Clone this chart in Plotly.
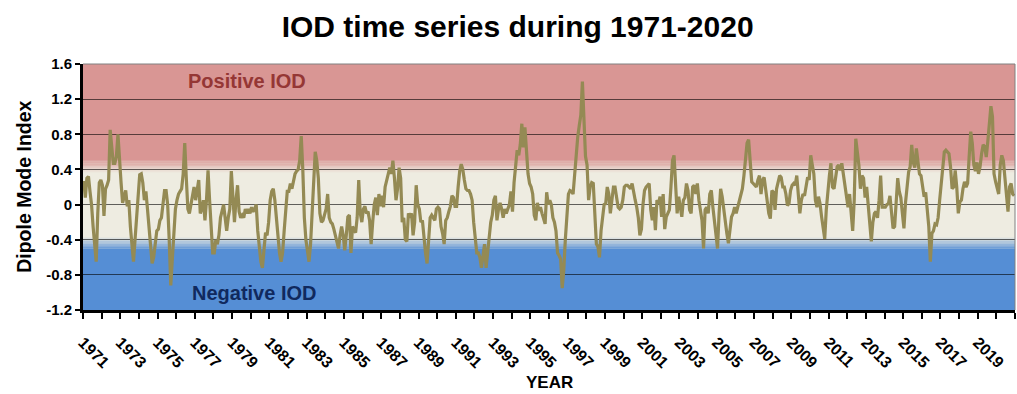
import plotly.graph_objects as go

# Monthly Dipole Mode Index, one row per year (Jan..Dec)
dmi_1971_1980 = [
    0.27, 0.08, 0.30, 0.32, 0.15, 0.00, -0.25, -0.45, -0.65, -0.10, 0.25, 0.28,
    0.22, -0.13, 0.18, 0.22, 0.28, 0.85, 0.62, 0.47, 0.47, 0.55, 0.80, 0.45,
    0.25, 0.02, 0.08, 0.16, -0.02, 0.05, -0.25, -0.50, -0.65, -0.40, -0.15, 0.15,
    0.34, 0.35, 0.25, 0.05, 0.15, -0.05, -0.30, -0.55, -0.67, -0.60, -0.45, -0.30,
    -0.28, -0.18, -0.15, 0.05, 0.16, 0.16, 0.00, -0.40, -0.92, -0.62, -0.30, -0.05,
    0.05, 0.12, 0.15, 0.18, 0.35, 0.70, 0.30, -0.05, -0.10, 0.00, 0.09, 0.20,
    0.05, 0.15, 0.28, -0.10, -0.05, 0.05, -0.18, 0.05, 0.39, 0.05, -0.20, -0.55,
    -0.55, -0.40, -0.45, -0.35, -0.15, -0.05, 0.00, -0.15, -0.30, -0.15, -0.05, 0.38,
    0.05, -0.20, 0.05, 0.22, -0.08, -0.15, -0.12, -0.15, -0.05, -0.10, -0.05, -0.10,
    -0.03, -0.08, -0.05, 0.00, -0.30, -0.50, -0.65, -0.72, -0.50, -0.32, -0.35, -0.20,
]
dmi_1981_1990 = [
    0.05, 0.15, 0.18, 0.05, -0.15, -0.38, -0.55, -0.65, -0.55, -0.30, -0.05, 0.15,
    0.15, 0.24, 0.18, 0.28, 0.35, 0.38, 0.40, 0.50, 0.78, 0.40, -0.15, -0.40,
    -0.55, -0.65, -0.45, -0.10, 0.35, 0.60, 0.50, 0.30, -0.10, -0.20, -0.18, -0.10,
    -0.05, 0.12, -0.15, -0.20, -0.22, -0.28, -0.35, -0.45, -0.50, -0.35, -0.25, -0.35,
    -0.52, -0.35, -0.14, -0.12, -0.55, -0.25, -0.28, -0.32, -0.15, 0.28, -0.10, -0.20,
    -0.05, -0.02, -0.10, -0.08, -0.18, -0.45, -0.20, 0.00, 0.08, -0.12, 0.12, -0.02,
    0.10, -0.03, 0.20, 0.28, 0.38, 0.42, 0.35, 0.50, 0.30, 0.05, 0.18, 0.42,
    0.30, -0.20, -0.15, -0.40, -0.42, -0.10, -0.15, -0.10, -0.35, -0.20, 0.22, 0.00,
    -0.05, -0.20, -0.18, -0.40, -0.55, -0.67, -0.35, -0.15, -0.12, -0.15, -0.18, -0.05,
    -0.03, -0.05, -0.25, -0.33, -0.45, -0.18, -0.15, -0.08, -0.02, 0.10, 0.08, -0.02,
]
dmi_1991_2000 = [
    -0.02, 0.20, 0.38, 0.46, 0.40, 0.28, 0.18, 0.16, 0.16, 0.12, 0.05, -0.20,
    -0.40, -0.55, -0.55, -0.60, -0.72, -0.60, -0.45, -0.72, -0.55, -0.30, -0.20, -0.12,
    0.05, 0.10, -0.18, -0.05, 0.02, -0.05, -0.15, -0.05, -0.10, -0.05, 0.00, 0.15,
    -0.08, 0.25, 0.48, 0.62, 0.56, 0.68, 0.92, 0.65, 0.88, 0.55, 0.35, 0.24,
    0.20, 0.12, -0.12, -0.18, 0.02, -0.07, -0.03, -0.10, -0.18, -0.22, 0.14, 0.00,
    0.05, 0.00, -0.15, -0.20, -0.30, -0.55, -0.58, -0.62, -0.95, -0.75, -0.40, -0.07,
    0.12, 0.16, 0.15, 0.12, 0.38, 0.55, 0.77, 0.90, 1.02, 1.40, 0.98, 0.55,
    0.45, 0.05, 0.20, 0.25, 0.24, -0.08, -0.45, -0.48, -0.60, -0.30, -0.12, 0.00,
    0.01, 0.20, 0.12, -0.10, 0.05, 0.20, 0.20, 0.05, -0.03, -0.05, -0.03, 0.05,
    0.20, 0.22, 0.22, 0.20, 0.18, 0.24, 0.12, 0.05, -0.03, -0.15, -0.35, -0.28,
]
dmi_2001_2010 = [
    0.00, 0.16, 0.20, 0.22, 0.24, -0.06, -0.18, -0.03, -0.29, 0.05, 0.01, 0.09,
    -0.14, 0.12, -0.28, -0.14, -0.10, -0.06, 0.20, 0.50, 0.56, 0.20, -0.10, 0.09,
    -0.03, -0.14, 0.05, 0.08, 0.24, 0.16, -0.06, -0.10, 0.20, 0.22, 0.12, 0.24,
    0.05, -0.10, -0.18, -0.50, -0.06, -0.03, -0.10, 0.12, 0.16, -0.03, -0.18, -0.37,
    -0.50, -0.10, 0.18, 0.09, -0.06, -0.22, -0.33, -0.44, -0.25, -0.14, -0.10, -0.03,
    -0.10, -0.03, 0.05, 0.12, 0.18, 0.33, 0.52, 0.70, 0.74, 0.43, 0.26, 0.24,
    0.22, 0.20, 0.28, 0.33, 0.12, 0.28, 0.31, 0.18, 0.05, -0.10, -0.16, 0.16,
    0.14, -0.06, 0.18, 0.28, 0.33, 0.31, 0.20, 0.20, 0.12, -0.01, 0.01, 0.16,
    0.22, 0.24, 0.22, 0.33, 0.14, -0.10, 0.05, 0.12, 0.10, 0.20, 0.31, 0.28,
    0.56, 0.45, 0.35, 0.05, -0.03, 0.09, 0.01, -0.14, -0.29, -0.39, -0.06, 0.20,
]
dmi_2011_2020 = [
    0.33, 0.47, 0.20, 0.18, 0.33, 0.43, 0.45, 0.39, 0.47, 0.33, 0.24, 0.10,
    -0.03, 0.12, -0.14, -0.30, 0.05, 0.75, 0.60, 0.45, 0.18, 0.33, 0.30, 0.08,
    0.20, 0.00, -0.30, -0.42, -0.20, -0.10, -0.08, -0.15, 0.05, 0.33, -0.03, -0.03,
    -0.03, 0.00, 0.01, 0.10, -0.05, -0.27, -0.25, 0.05, 0.30, 0.15, 0.08, -0.10,
    -0.27, 0.02, 0.24, 0.37, 0.43, 0.68, 0.48, 0.42, 0.64, 0.47, 0.35, 0.33,
    0.20, 0.09, 0.14, -0.03, -0.25, -0.65, -0.33, -0.30, -0.22, -0.23, -0.15, 0.05,
    0.24, 0.49, 0.60, 0.62, 0.60, 0.58, 0.43, 0.18, 0.20, 0.39, 0.20, -0.10,
    0.03, 0.05, 0.18, 0.26, 0.20, 0.24, 0.55, 0.83, 0.70, 0.45, 0.38, 0.48,
    0.35, 0.43, 0.58, 0.68, 0.66, 0.54, 0.72, 0.98, 1.12, 1.00, 0.35, 0.26,
    0.18, 0.12, 0.45, 0.56, 0.50, 0.30, 0.08, -0.08, 0.20, 0.24, 0.12, 0.10,
]

first_year = 1971
last_year = 2020
y_ticks = [-1.2, -0.8, -0.4, 0, 0.4, 0.8, 1.2, 1.6]
y_tick_text = ["-1.2", "-0.8", "-0.4", "0", "0.4", "0.8", "1.2", "1.6"]

dmi = dmi_1971_1980 + dmi_1981_1990 + dmi_1991_2000 + dmi_2001_2010 + dmi_2011_2020
# each monthly value sits in the middle of its month
months = [first_year + (i + 0.5) / 12 for i in range(len(dmi))]

year_ticks = list(range(first_year, last_year + 2))
year_text = [str(y) if (y - first_year) % 2 == 0 and y <= last_year else "" for y in year_ticks]

PINK = (217, 150, 148)
CREAM = (238, 236, 225)
BLUE = (85, 142, 213)
FONT = "Liberation Sans, Arial, sans-serif"


def mix(c1, c2, t):
    return "rgb(%d,%d,%d)" % tuple(round(a + (b - a) * t) for a, b in zip(c1, c2))


shapes = []


def band(y0, y1, color):
    shapes.append(dict(type="rect", xref="paper", yref="y", x0=0, x1=1, y0=y0, y1=y1,
                       fillcolor=color, line=dict(width=0), layer="below"))


# solid background zones
band(0.50, 1.6, mix(PINK, PINK, 0))
band(-0.37, 0.36, mix(CREAM, CREAM, 0))
band(-1.2, -0.50, mix(BLUE, BLUE, 0))
# soft fades between the zones
steps = 14
for k in range(steps):
    a = 0.50 - (0.50 - 0.36) * k / steps
    b = 0.50 - (0.50 - 0.36) * (k + 1) / steps
    band(b, a + 0.001, mix(PINK, CREAM, (k + 0.5) / steps))
    a = -0.37 - (0.50 - 0.37) * k / steps
    b = -0.37 - (0.50 - 0.37) * (k + 1) / steps
    band(b, a + 0.001, mix(CREAM, BLUE, (k + 0.5) / steps))

# thin frame along the top and right edges
shapes.append(dict(type="line", xref="paper", yref="paper", x0=0, x1=1, y0=1, y1=1,
                   line=dict(color="#808080", width=1)))
shapes.append(dict(type="line", xref="paper", yref="paper", x0=1, x1=1, y0=0, y1=1,
                   line=dict(color="#808080", width=1)))

fig = go.Figure()
fig.add_trace(go.Scatter(
    x=months, y=dmi, mode="lines",
    line=dict(color="#948A54", width=3.2),
    hoverinfo="skip", showlegend=False,
))

fig.update_layout(
    width=1017, height=394,
    margin=dict(l=83, r=2, t=64, b=84),
    paper_bgcolor="white",
    plot_bgcolor="rgb(238,236,225)",
    shapes=shapes,
    title=dict(text="IOD time series during 1971-2020", x=0.509, xref="container",
               y=1 - 26 / 394, yref="container", xanchor="center", yanchor="middle",
               font=dict(family=FONT, size=30, color="black", weight="bold")),
    annotations=[
        dict(text="Positive IOD", xref="paper", yref="y", x=0.176, y=1.41,
             showarrow=False, xanchor="center", yanchor="middle",
             font=dict(family=FONT, size=20, color="#953735", weight="bold")),
        dict(text="Negative IOD", xref="paper", yref="y", x=0.183, y=-1.005,
             showarrow=False, xanchor="center", yanchor="middle",
             font=dict(family=FONT, size=20, color="#10295E", weight="bold")),
        dict(text="Dipole Mode Index", xref="paper", yref="paper", x=-0.0635, y=0.5,
             textangle=-90, showarrow=False, xanchor="center", yanchor="middle",
             font=dict(family=FONT, size=19.5, color="black", weight="bold")),
        dict(text="YEAR", xref="paper", yref="paper", x=0.5, y=-0.295,
             showarrow=False, xanchor="center", yanchor="middle",
             font=dict(family=FONT, size=17, color="black", weight="bold")),
    ],
)

fig.update_xaxes(
    range=[first_year, last_year + 1],
    tickmode="array", tickvals=year_ticks, ticktext=year_text,
    tickangle=45, ticks="outside", ticklen=6, tickwidth=2, tickcolor="black",
    ticklabelstandoff=8,
    showline=True, linewidth=3, linecolor="black",
    showgrid=False, zeroline=False,
    tickfont=dict(family=FONT, size=16, color="black", weight="bold"),
)
fig.update_yaxes(
    range=[-1.2, 1.6],
    tickmode="array", tickvals=y_ticks, ticktext=y_tick_text,
    ticks="outside", ticklen=5, tickwidth=2, tickcolor="black",
    showline=True, linewidth=3, linecolor="black",
    showgrid=True, gridcolor="rgba(0,0,0,0.6)", gridwidth=1, zeroline=False,
    tickfont=dict(family=FONT, size=15, color="black", weight="bold"),
)

fig.write_html("out.html")
